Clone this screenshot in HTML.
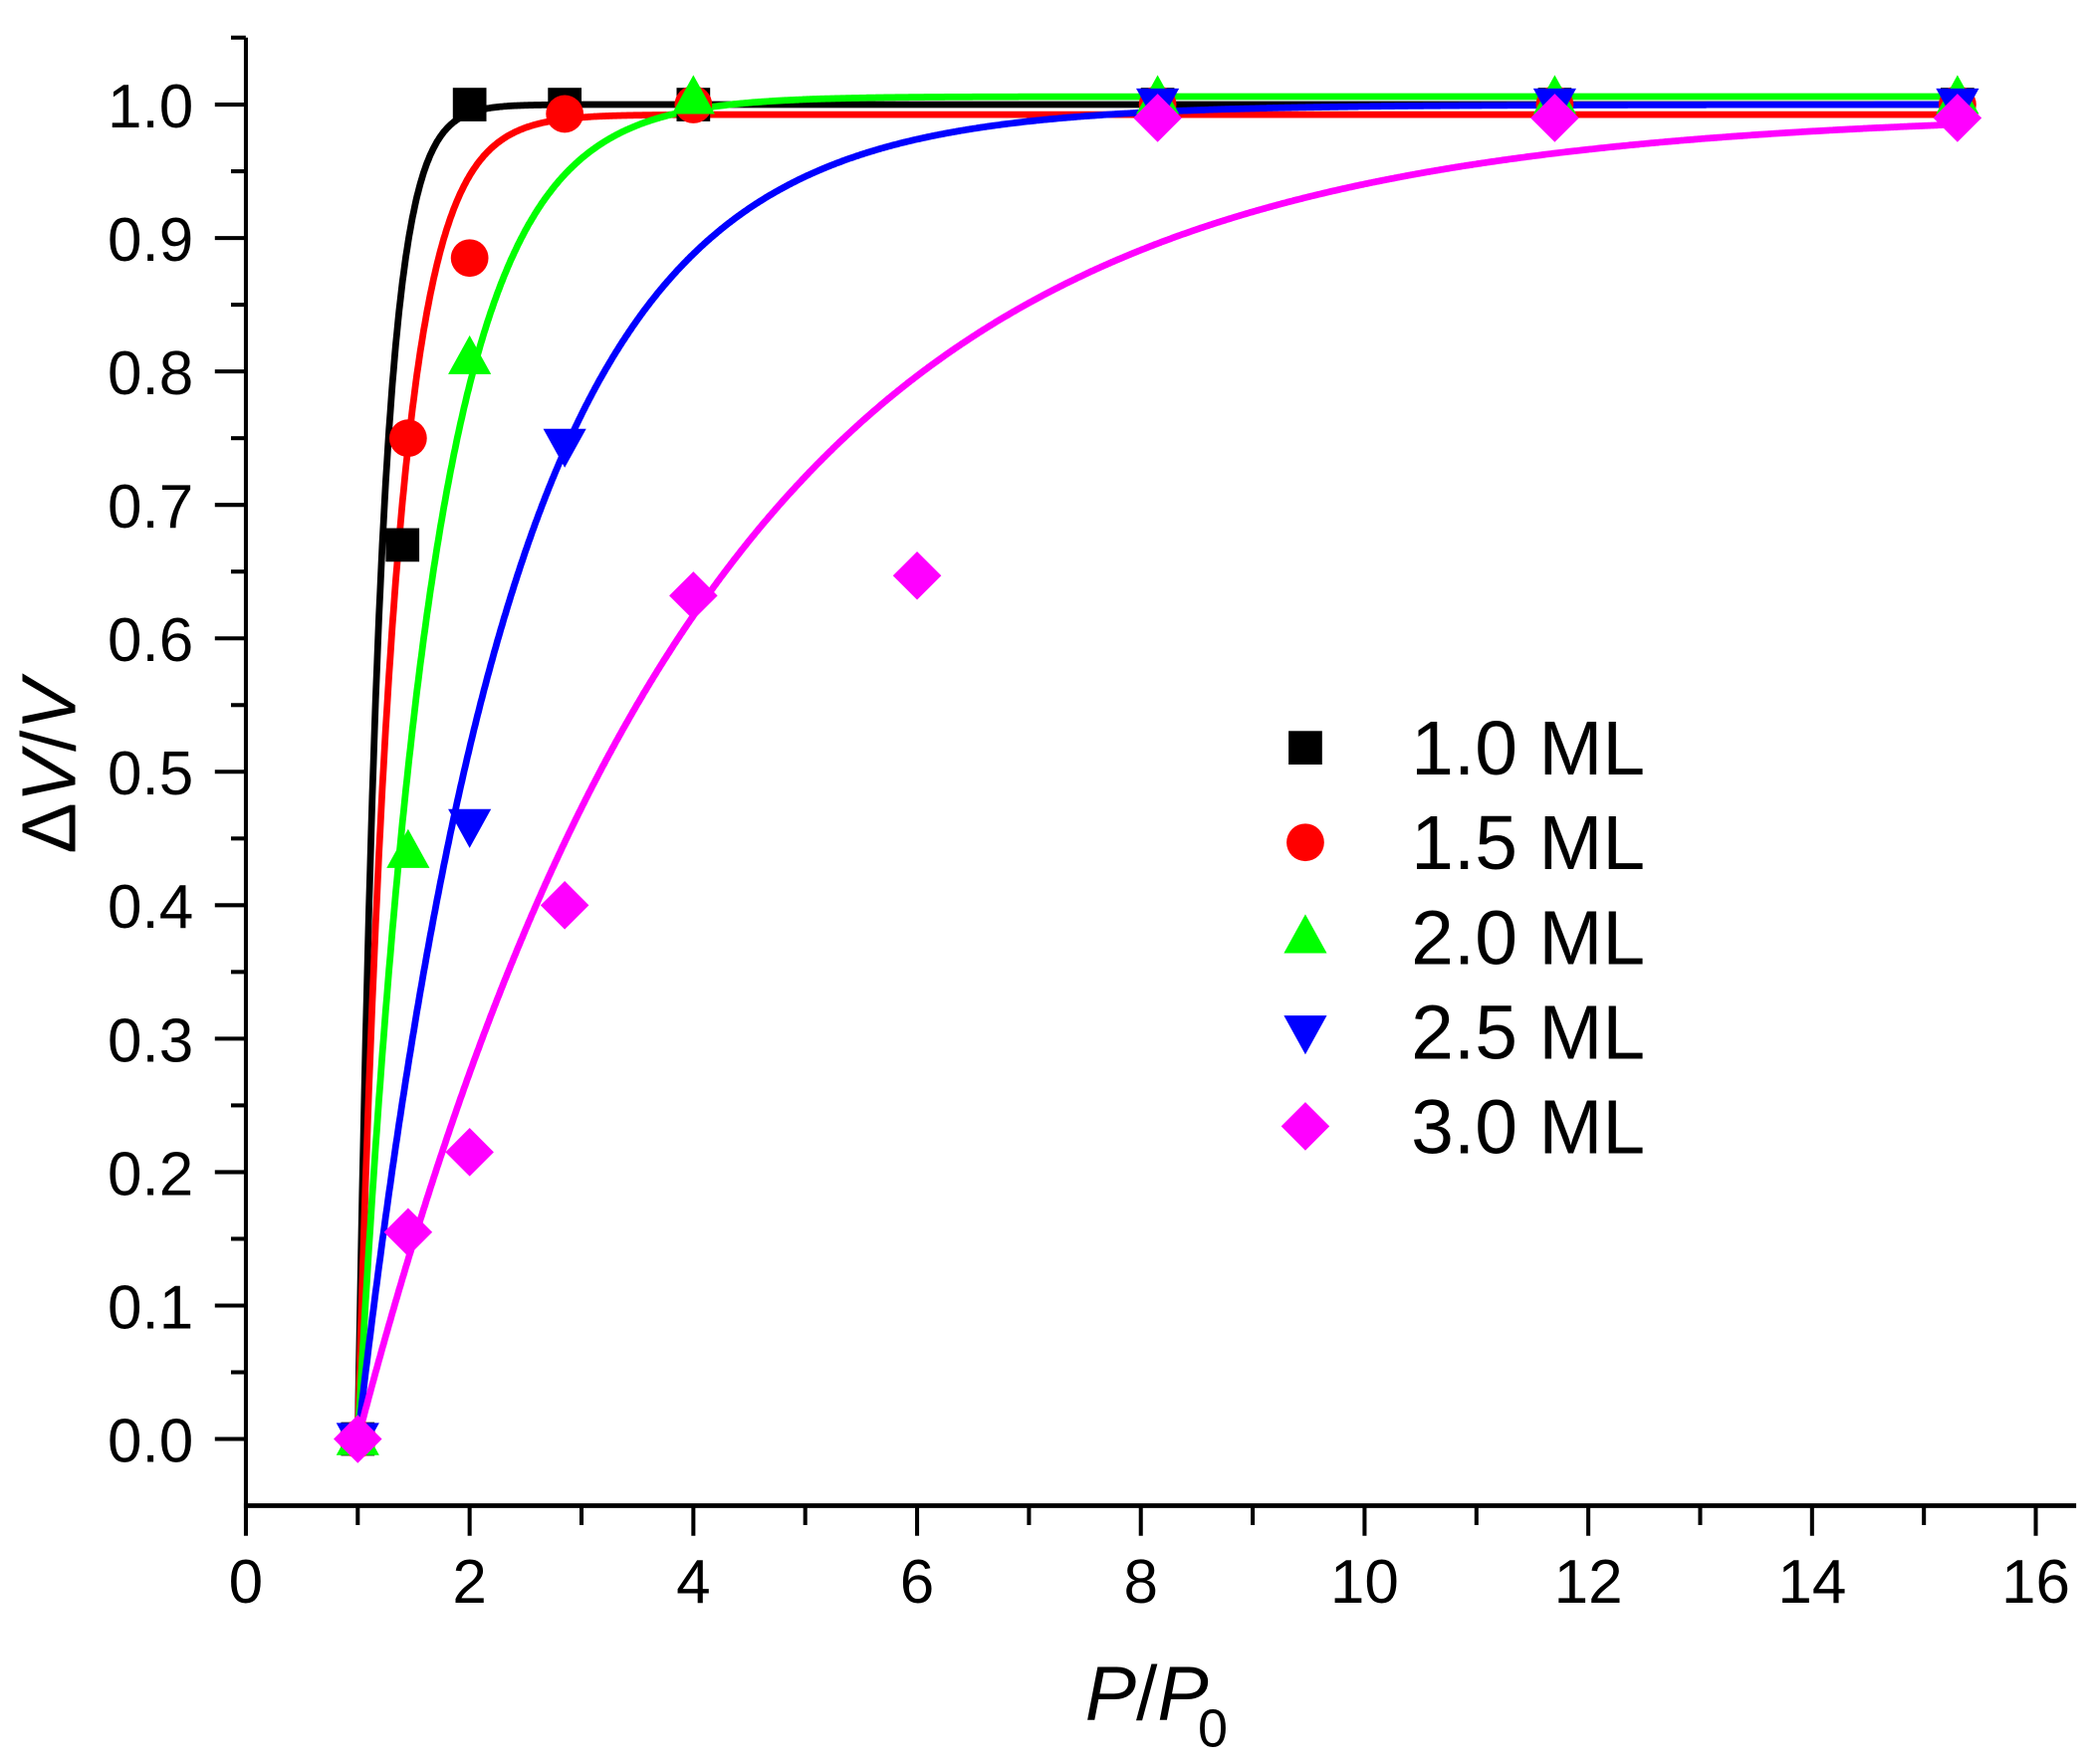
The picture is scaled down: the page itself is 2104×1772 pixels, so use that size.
<!DOCTYPE html>
<html><head><meta charset="utf-8"><style>
html,body{margin:0;padding:0;background:#fff;}
svg{display:block;}
text{font-family:"Liberation Sans",Arial,sans-serif;fill:#000;}
</style></head><body>
<svg id="s" width="2104" height="1772" viewBox="0 0 1560 1314" preserveAspectRatio="none" xmlns="http://www.w3.org/2000/svg">
<g id="axes" stroke="#000" fill="none" stroke-width="3"></g>
<g id="labels" font-size="46" text-anchor="end"></g>
<g id="curves" fill="none" stroke-width="5" stroke-linejoin="round"></g>
<g id="marks"></g>
<g id="legend" font-size="57"></g>
<text x="56" y="571" font-size="57" text-anchor="middle" transform="rotate(-90 56 571)">Δ<tspan font-style="italic">V</tspan>/<tspan font-style="italic">V</tspan></text>
<text x="808" y="1281" font-size="57"><tspan font-style="italic">P</tspan>/<tspan font-style="italic">P</tspan></text>
<text x="892" y="1301" font-size="40">0</text>
</svg>
<script>
var NS="http://www.w3.org/2000/svg";
function X(v){return 183.1+v*83.3;}
function Y(v){return 1071.9-v*994;}
function el(p,t,a,txt){var e=document.createElementNS(NS,t);for(var k in a)e.setAttribute(k,a[k]);if(txt!==undefined)e.textContent=txt;document.getElementById(p).appendChild(e);return e;}
el("axes","line",{x1:183.1,y1:28,x2:183.1,y2:1121.6});
el("axes","line",{x1:181.6,y1:1121.6,x2:1546,y2:1121.6,"stroke-width":3.5});
el("axes","line",{x1:172,y1:28,x2:183,y2:28});
for(var i=-1;i<=21;i++){var v=i*0.05;var y=Y(v);if(y>1110||y<30)continue;
 var maj=(i%2===0);el("axes","line",{x1:maj?160:172,y1:y,x2:183,y2:y});
 if(maj&&i>=0)el("labels","text",{x:144,y:y+17},(v).toFixed(1));}
for(var j=0;j<=16;j++){var x=X(j);var maj=(j%2===0);
 el("axes","line",{x1:x,y1:1121.6,x2:x,y2:maj?1144:1136});
 if(maj)el("labels","text",{x:x,y:1194,"text-anchor":"middle"},""+j);}
var C=[["#000",1.0,0.198],["#f00",0.9925,0.325],["#0f0",1.006,0.65],["#00f",1.0,1.37],["#f0f",0.995,3.1]];
C.forEach(function(c){var d="";for(var x=1;x<=15.2;x+=0.01){var y=c[1]*(1-Math.exp(-(x-1)/c[2]));d+=(d?"L":"M")+X(x).toFixed(1)+" "+Y(y).toFixed(1);}
 el("curves","path",{d:d,stroke:c[0]});});
function mk(g,type,cx,cy,col){var s=12.5;
 if(type==0)el(g,"rect",{x:cx-s,y:cy-s,width:2*s,height:2*s,fill:col});
 else if(type==1)el(g,"circle",{cx:cx,cy:cy,r:14,fill:col});
 else if(type==2)el(g,"polygon",{points:(cx)+","+(cy-17)+" "+(cx-16)+","+(cy+12)+" "+(cx+16)+","+(cy+12),fill:col});
 else if(type==3)el(g,"polygon",{points:(cx)+","+(cy+17)+" "+(cx-16)+","+(cy-12)+" "+(cx+16)+","+(cy-12),fill:col});
 else el(g,"polygon",{points:cx+","+(cy-18)+" "+(cx+18)+","+cy+" "+cx+","+(cy+18)+" "+(cx-18)+","+cy,fill:col});}
var D=[
 ["#000",0,[[1,0],[1.4,0.67],[2,1.0],[2.85,1.0],[4,1.0],[8.15,1.0],[11.7,1.0],[15.3,1.0]]],
 ["#f00",1,[[1,0],[1.45,0.75],[2,0.885],[2.85,0.993],[4,1.0],[8.15,1.0],[11.7,1.0],[15.3,1.0]]],
 ["#0f0",2,[[1,0],[1.45,0.44],[2,0.81],[4,1.005],[8.15,1.005],[11.7,1.005],[15.3,1.005]]],
 ["#00f",3,[[1,0],[2,0.46],[2.85,0.745],[8.15,1.0],[11.7,1.0],[15.3,1.0]]],
 ["#f0f",4,[[1,0],[1.45,0.155],[2,0.215],[2.85,0.40],[4,0.632],[6,0.647],[8.15,0.99],[11.7,0.99],[15.3,0.99]]]];
D.forEach(function(s){s[2].forEach(function(p){mk("marks",s[1],X(p[0]),Y(p[1]),s[0]);});});
var L=["1.0 ML","1.5 ML","2.0 ML","2.5 ML","3.0 ML"];
for(var k=0;k<5;k++){var yy=557+k*70.5;mk("legend",k,972,yy,D[k][0]);
 el("legend","text",{x:1225,y:yy+20,"text-anchor":"end"},L[k]);}
</script>
</body></html>
